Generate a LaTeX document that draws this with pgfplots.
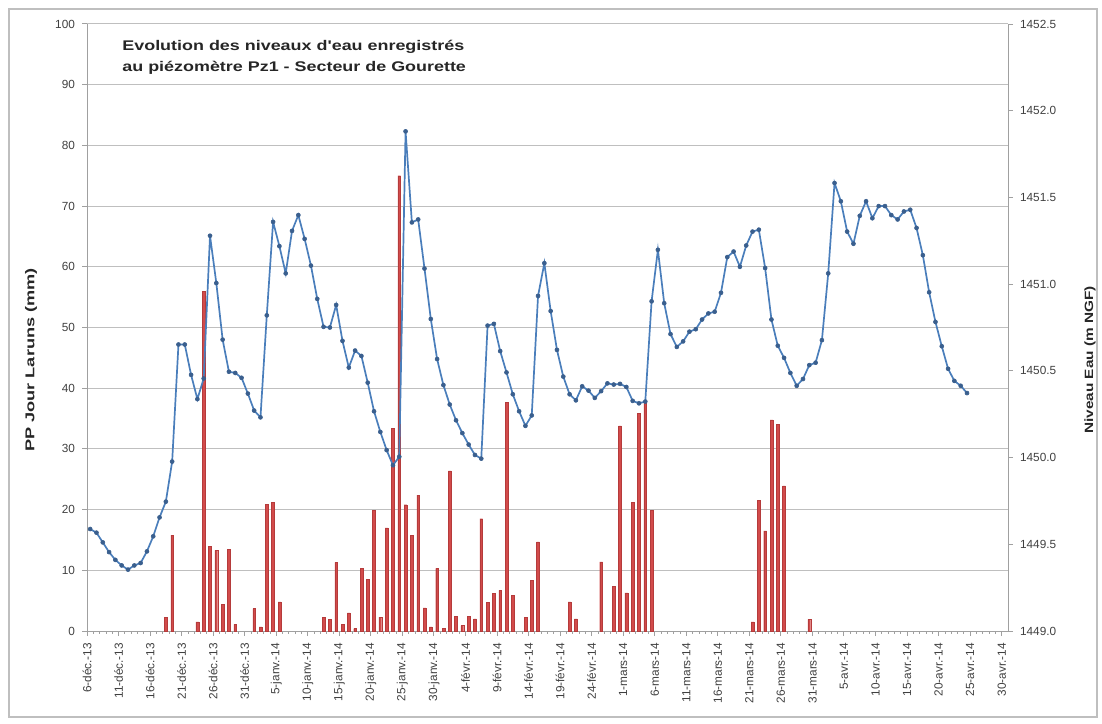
\documentclass[border=0pt]{standalone}
\usepackage{pgfplots}
\pgfplotsset{compat=1.18}
\usepackage{pgfplotstable}
\usepackage{fontspec}
\setmainfont{Liberation Sans}
\newfontfamily\labfont{Liberation Sans}[FakeStretch=1.28]
\newfontfamily\ylabfont{Liberation Sans}[FakeStretch=1.42]
\definecolor{lineblue}{HTML}{4A7EBB}
\definecolor{markblue}{HTML}{3A5F8E}
\definecolor{barred}{HTML}{D24B4B}
\definecolor{bardark}{HTML}{B53B3B}
\definecolor{gridgray}{HTML}{BFBFBF}
\definecolor{axgray}{HTML}{A0A0A0}
\definecolor{txt}{HTML}{404040}

% precipitation (mm), day index k = days since 6 Dec 2013
\pgfplotstableread{
k p
12 2.3
13 15.8
17 1.5
18 56.0
19 13.9
20 13.3
21 4.4
22 13.5
23 1.1
26 3.7
27 0.7
28 20.9
29 21.2
30 4.8
37 2.3
38 1.9
39 11.3
40 1.1
41 3.0
42 0.4
43 10.3
44 8.5
45 19.9
46 2.3
47 17.0
48 33.4
49 75.0
50 20.8
51 15.8
52 22.4
53 3.8
54 0.7
55 10.3
56 0.4
57 26.4
58 2.4
59 0.9
60 2.4
61 2.0
62 18.5
63 4.7
64 6.2
65 6.7
66 37.7
67 5.9
69 2.3
70 8.4
71 14.7
76 4.8
77 2.0
81 11.4
83 7.3
84 33.8
85 6.3
86 21.2
87 35.9
88 37.7
89 19.9
105 1.5
106 21.5
107 16.5
108 34.8
109 34.1
110 23.9
114 1.9
}\bars

% water level (m NGF)
\pgfplotstableread{
k L
0 1449.588
1 1449.567
2 1449.511
3 1449.455
4 1449.410
5 1449.378
6 1449.354
7 1449.378
8 1449.392
9 1449.459
10 1449.546
11 1449.655
12 1449.746
13 1449.977
14 1450.652
15 1450.652
16 1450.477
17 1450.337
18 1450.456
19 1451.279
20 1451.006
21 1450.680
22 1450.495
23 1450.488
24 1450.460
25 1450.369
26 1450.271
27 1450.232
28 1450.820
29 1451.359
30 1451.219
31 1451.062
32 1451.307
33 1451.398
34 1451.261
35 1451.107
36 1450.915
37 1450.754
38 1450.750
39 1450.880
40 1450.673
41 1450.519
42 1450.617
43 1450.586
44 1450.432
45 1450.267
46 1450.148
47 1450.043
48 1449.956
49 1450.005
50 1451.881
51 1451.356
52 1451.373
53 1451.090
54 1450.799
55 1450.568
56 1450.418
57 1450.306
58 1450.215
59 1450.141
60 1450.075
61 1450.015
62 1449.994
63 1450.761
64 1450.771
65 1450.614
66 1450.491
67 1450.365
68 1450.267
69 1450.183
70 1450.243
71 1450.932
72 1451.121
73 1450.845
74 1450.621
75 1450.467
76 1450.365
77 1450.330
78 1450.411
79 1450.386
80 1450.344
81 1450.383
82 1450.428
83 1450.421
84 1450.425
85 1450.407
86 1450.327
87 1450.313
88 1450.323
89 1450.901
90 1451.198
91 1450.890
92 1450.712
93 1450.638
94 1450.670
95 1450.726
96 1450.740
97 1450.796
98 1450.831
99 1450.841
100 1450.950
101 1451.156
102 1451.188
103 1451.100
104 1451.223
105 1451.303
106 1451.314
107 1451.093
108 1450.796
109 1450.645
110 1450.575
111 1450.488
112 1450.414
113 1450.453
114 1450.533
115 1450.547
116 1450.677
117 1451.062
118 1451.583
119 1451.478
120 1451.303
121 1451.233
122 1451.394
123 1451.478
124 1451.380
125 1451.450
126 1451.450
127 1451.398
128 1451.373
129 1451.419
130 1451.429
131 1451.324
132 1451.167
133 1450.953
134 1450.782
135 1450.642
136 1450.512
137 1450.442
138 1450.414
139 1450.372
}\level

\pgfplotsset{
  common/.style={
    at={(0pt,0pt)}, anchor=south west,
    scale only axis, width=460.5pt, height=303.5pt,
    xmin=-0.5, xmax=145.5,
    axis line style={axgray, line width=0.5pt},
    major tick style={axgray, line width=0.5pt},
    minor tick style={axgray, line width=0.4pt},
    tick align=outside,
    major tick length=2.5pt, minor tick length=1.3pt,
    ticklabel style={font=\fontsize{5.9}{7}\selectfont, text=txt},
    /pgf/number format/assume math mode=true,
  }
}

\begin{document}
\begin{tikzpicture}
\path[use as bounding box] (-43.5pt,-46pt) rectangle (507.5pt,315.5pt);
\draw[gridgray, line width=0.6pt] (-39pt,-43pt) rectangle (505pt,311pt);

\begin{axis}[common,
  ymin=0, ymax=100,
  axis y line*=left, axis x line*=bottom,
  ytick={0,10,...,100},
  ymajorgrids, grid style={gridgray, line width=0.5pt},
  xtick={-0.5,4.5,...,144.5},
  minor x tick num=4,
  xticklabels={6-déc.-13,11-déc.-13,16-déc.-13,21-déc.-13,26-déc.-13,31-déc.-13,5-janv.-14,10-janv.-14,15-janv.-14,20-janv.-14,25-janv.-14,30-janv.-14,4-févr.-14,9-févr.-14,14-févr.-14,19-févr.-14,24-févr.-14,1-mars-14,6-mars-14,11-mars-14,16-mars-14,21-mars-14,26-mars-14,31-mars-14,5-avr.-14,10-avr.-14,15-avr.-14,20-avr.-14,25-avr.-14,30-avr.-14},
  xticklabel style={rotate=90, anchor=east},
]
\addplot[ybar, bar width=1.4pt, fill=barred, draw=bardark, line width=0.2pt] table[x=k, y=p] {\bars};
\end{axis}

\begin{axis}[common,
  ymin=1449, ymax=1452.5,
  axis y line*=right, axis x line=none,
  ytick={1449,1449.5,...,1452.5},
  yticklabel style={/pgf/number format/.cd, fixed, fixed zerofill, precision=1, 1000 sep={}},
]
\addplot[lineblue, line width=0.85pt, mark=*, mark size=1pt, mark options={fill=markblue, draw=markblue, line width=0.3pt}] table[x=k, y=L] {\level};
\end{axis}

\node[anchor=base west, inner sep=0pt, font=\labfont\bfseries\fontsize{7}{8}\selectfont, text=black!85] at (17.5pt,290pt) {Evolution des niveaux d'eau enregistrés};
\node[anchor=base west, inner sep=0pt, font=\labfont\bfseries\fontsize{7}{8}\selectfont, text=black!85] at (17.5pt,279.5pt) {au piézomètre Pz1 - Secteur de Gourette};
\node[rotate=90, inner sep=0pt, font=\ylabfont\bfseries\fontsize{6.4}{7}\selectfont, text=black!85] at (-28pt,135.5pt) {PP Jour Laruns (mm)};
\node[rotate=90, inner sep=0pt, font=\labfont\bfseries\fontsize{6}{7}\selectfont, text=black!85] at (501.5pt,135.5pt) {Niveau Eau (m NGF)};
\end{tikzpicture}
\end{document}
